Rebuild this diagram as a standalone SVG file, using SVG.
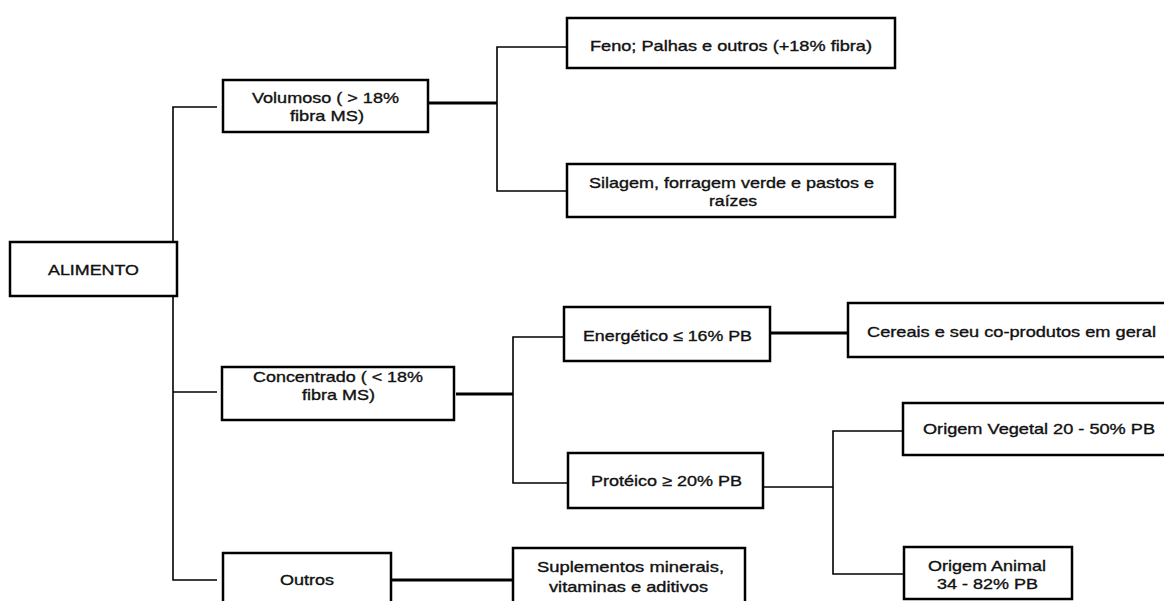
<svg xmlns="http://www.w3.org/2000/svg" width="1164" height="601" viewBox="0 0 1164 601">
<style>
.box{fill:#fff;stroke:#000;stroke-width:2.5}
.t{font-family:"Liberation Sans",Arial,sans-serif;font-size:14.8px;fill:#111;stroke:#111;stroke-width:0.35}
.thin{fill:none;stroke:#000;stroke-width:1.6}
.thick{fill:none;stroke:#000;stroke-width:3}
</style>
<rect width="1164" height="601" fill="#fff"/>
<g id="connectors">
<path class="thin" d="M217,107 H173 V242 H129"/>
<path class="thin" d="M129,291 H173 V580 H217"/>
<path class="thin" d="M173,392 H217"/>
<path class="thick" d="M428,103 H497"/>
<path class="thin" d="M567,47 H497 V191 H567"/>
<path class="thick" d="M456,394 H513"/>
<path class="thin" d="M563,337 H513 V483 H567"/>
<path class="thick" d="M770,333 H848"/>
<path class="thin" d="M763,487 H833"/>
<path class="thin" d="M903,431 H833 V574 H904"/>
<path class="thick" d="M391,580 H513"/>
</g>
<g id="alimento">
<rect class="box" x="10" y="242" width="167" height="54"/>
<text class="t" x="48" y="275" textLength="91" lengthAdjust="spacingAndGlyphs">ALIMENTO</text>
</g>
<g id="volumoso">
<rect class="box" x="223" y="80" width="205" height="52"/>
<text class="t" x="252" y="103" textLength="147" lengthAdjust="spacingAndGlyphs">Volumoso ( &gt; 18%</text>
<text class="t" x="290" y="121" textLength="74" lengthAdjust="spacingAndGlyphs">fibra MS)</text>
</g>
<g id="feno">
<rect class="box" x="567" y="18" width="328" height="50"/>
<text class="t" x="590" y="51" textLength="282" lengthAdjust="spacingAndGlyphs">Feno; Palhas e outros (+18% fibra)</text>
</g>
<g id="silagem">
<rect class="box" x="567" y="164" width="328" height="53"/>
<text class="t" x="589" y="188" textLength="285" lengthAdjust="spacingAndGlyphs">Silagem, forragem verde e pastos e</text>
<text class="t" x="709" y="206" textLength="48" lengthAdjust="spacingAndGlyphs">raízes</text>
</g>
<g id="concentrado">
<rect class="box" x="222" y="367" width="232" height="53"/>
<text class="t" x="253" y="382" textLength="170" lengthAdjust="spacingAndGlyphs">Concentrado ( &lt; 18%</text>
<text class="t" x="302" y="400" textLength="73" lengthAdjust="spacingAndGlyphs">fibra MS)</text>
</g>
<g id="energetico">
<rect class="box" x="564" y="307" width="206" height="54"/>
<text class="t" x="583" y="341" textLength="169" lengthAdjust="spacingAndGlyphs">Energético ≤ 16% PB</text>
</g>
<g id="cereais">
<rect class="box" x="848" y="303" width="330" height="54"/>
<text class="t" x="867" y="337" textLength="289" lengthAdjust="spacingAndGlyphs">Cereais e seu co-produtos em geral</text>
</g>
<g id="proteico">
<rect class="box" x="568" y="453" width="195" height="55"/>
<text class="t" x="591" y="486" textLength="151" lengthAdjust="spacingAndGlyphs">Protéico ≥ 20% PB</text>
</g>
<g id="vegetal">
<rect class="box" x="903" y="403" width="275" height="52"/>
<text class="t" x="923" y="434" textLength="232" lengthAdjust="spacingAndGlyphs">Origem Vegetal 20 - 50% PB</text>
</g>
<g id="animal">
<rect class="box" x="904" y="547" width="168" height="52"/>
<text class="t" x="928" y="571" textLength="118" lengthAdjust="spacingAndGlyphs">Origem Animal</text>
<text class="t" x="937" y="589" textLength="101" lengthAdjust="spacingAndGlyphs">34 - 82% PB</text>
</g>
<g id="outros">
<rect class="box" x="223" y="553" width="168" height="60"/>
<text class="t" x="280" y="585" textLength="54" lengthAdjust="spacingAndGlyphs">Outros</text>
</g>
<g id="suplementos">
<rect class="box" x="513" y="548" width="232" height="65"/>
<text class="t" x="537" y="572" textLength="187" lengthAdjust="spacingAndGlyphs">Suplementos minerais,</text>
<text class="t" x="549" y="592" textLength="159" lengthAdjust="spacingAndGlyphs">vitaminas e aditivos</text>
</g>
</svg>
